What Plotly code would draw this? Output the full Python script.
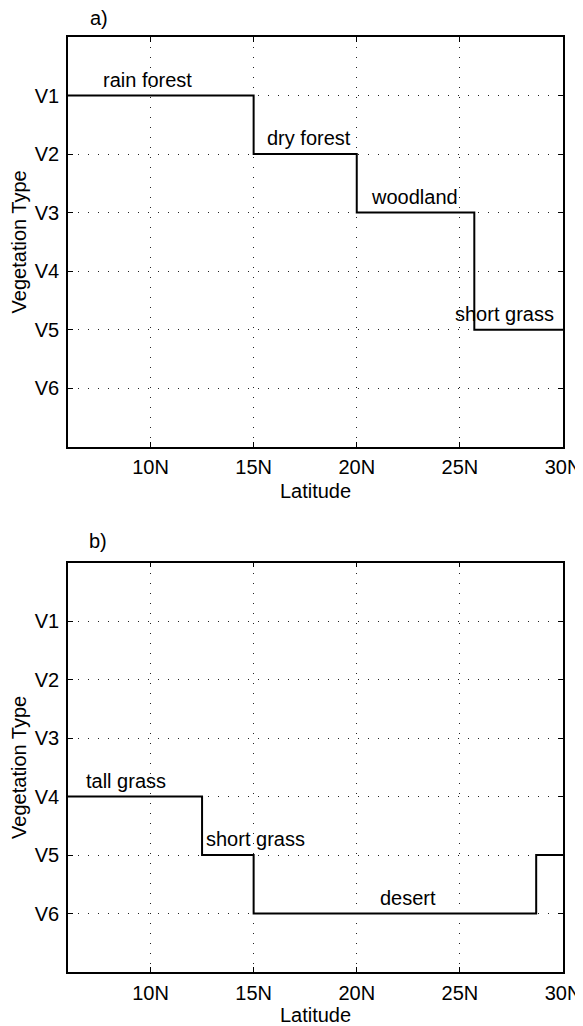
import plotly.graph_objects as go

# Data
lat_a = [6, 15, 20, 25.7, 30]
veg_a = [1, 2, 3, 5, 5]
lat_b = [6, 12.5, 15, 28.7, 30]
veg_b = [4, 5, 6, 5, 5]

labels_a = ["rain forest", "dry forest", "woodland", "short grass"]
labels_a_x = [9.87, 17.68, 22.8, 27.18]
labels_a_y = [1, 2, 3, 5]
labels_b = ["tall grass", "short grass", "desert"]
labels_b_x = [8.82, 15.1, 22.5]
labels_b_y = [4, 5, 6]

xticks = [10, 15, 20, 25, 30]
xticklabels = ["10N", "15N", "20N", "25N", "30N"]
yticks = [1, 2, 3, 4, 5, 6]
yticklabels = ["V1", "V2", "V3", "V4", "V5", "V6"]

FONT = "Liberation Sans, Arial, Helvetica, sans-serif"
FS = 20

# page has an 8px body margin; figure is sized to fit the 583x1026 window
OFF = 8
W, H = 583 - OFF, 1026 - OFF
PL, PR, PT, PB = 68, 563, 37, 972   # target plot area in page pixels
L, R, T, B = PL - OFF, W - (PR - OFF), PT - OFF, H - (PB - OFF)
pw, ph = W - L - R, H - T - B

def px2paper(px, py):
    return (px - OFF - L) / pw, (H - B - (py - OFF)) / ph

fig = go.Figure()
fig.add_trace(go.Scatter(x=lat_a, y=veg_a, mode="lines", line=dict(shape="hv", color="black", width=2),
                         xaxis="x", yaxis="y", showlegend=False, hoverinfo="skip"))
fig.add_trace(go.Scatter(x=lat_b, y=veg_b, mode="lines", line=dict(shape="hv", color="black", width=2),
                         xaxis="x2", yaxis="y2", showlegend=False, hoverinfo="skip"))

annotations = []
for t, x, y in zip(labels_a, labels_a_x, labels_a_y):
    annotations.append(dict(text=t, x=x, y=y, xref="x", yref="y", showarrow=False,
                            xanchor="center", yanchor="middle", yshift=16,
                            font=dict(size=FS, color="black", family=FONT)))
for t, x, y in zip(labels_b, labels_b_x, labels_b_y):
    annotations.append(dict(text=t, x=x, y=y, xref="x2", yref="y2", showarrow=False,
                            xanchor="center", yanchor="middle", yshift=16,
                            font=dict(size=FS, color="black", family=FONT)))
for t, (px, py) in [("a)", (99, 18)), ("b)", (98, 541))]:
    ax, ay = px2paper(px, py)
    annotations.append(dict(text=t, x=ax, y=ay, xref="paper", yref="paper", showarrow=False,
                            xanchor="center", yanchor="middle",
                            font=dict(size=FS, color="black", family=FONT)))

_, top_lo = px2paper(0, 446.7)
_, bot_hi = px2paper(0, 562.7)
top_dom = [top_lo, 1.0]
bot_dom = [0.0, bot_hi]

xaxis_common = dict(range=[6, 30], tickvals=xticks, ticktext=xticklabels, ticks="inside", ticklen=5,
                    tickcolor="black", tickwidth=1, showline=True, linecolor="black", linewidth=1.5,
                    mirror="ticks", showgrid=True, gridcolor="#222", griddash="1px,9px", gridwidth=1,
                    zeroline=False, automargin=False, tickfont=dict(size=FS, color="black", family=FONT),
                    title=dict(text="Latitude", font=dict(size=FS, color="black", family=FONT), standoff=7),
                    ticklabelstandoff=2)
yaxis_common = dict(range=[7, 0], tickvals=yticks, ticktext=yticklabels, ticks="inside", ticklen=5,
                    tickcolor="black", tickwidth=1, showline=True, linecolor="black", linewidth=1.5,
                    mirror="ticks", showgrid=True, gridcolor="#222", griddash="1px,9px", gridwidth=1,
                    zeroline=False, automargin=False, tickfont=dict(size=FS, color="black", family=FONT),
                    title=dict(text="Vegetation Type", font=dict(size=FS, color="black", family=FONT), standoff=4),
                    ticklabelstandoff=3)

fig.update_layout(
    width=W, height=H, margin=dict(l=L, r=R, t=T, b=B),
    paper_bgcolor="white", plot_bgcolor="white",
    xaxis=dict(domain=[0, 1], anchor="y", **xaxis_common),
    yaxis=dict(domain=top_dom, anchor="x", **yaxis_common),
    xaxis2=dict(domain=[0, 1], anchor="y2", **xaxis_common),
    yaxis2=dict(domain=bot_dom, anchor="x2", **yaxis_common),
    annotations=annotations,
    showlegend=False,
)

fig.write_html("out.html")
